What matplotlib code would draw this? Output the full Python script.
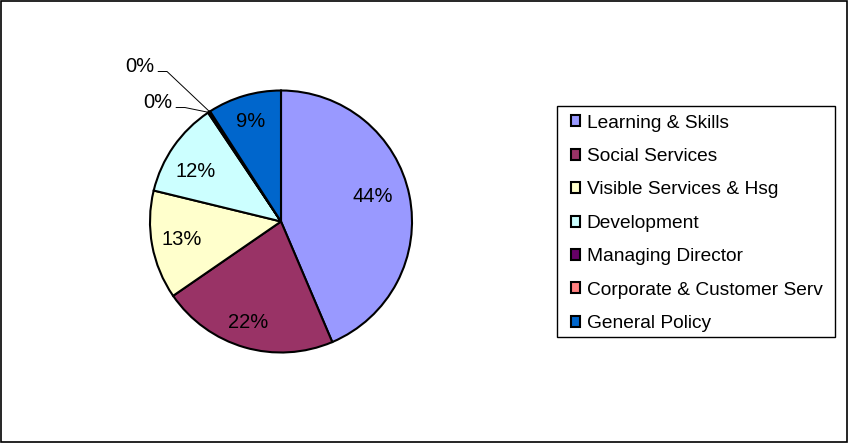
import matplotlib
matplotlib.use("Agg")
import matplotlib.pyplot as plt
from matplotlib.patches import Rectangle
import numpy as np

plt.rcParams['font.family'] = ['Liberation Sans', 'DejaVu Sans']

categories = ["Learning & Skills", "Social Services", "Visible Services & Hsg",
              "Development", "Managing Director", "Corporate & Customer Serv",
              "General Policy"]
values = [43.6, 21.8, 13.4, 11.8, 0.15, 0.15, 9.1]
colors = ["#9999FF", "#993366", "#FFFFCC", "#CCFFFF", "#660066", "#FF8080", "#0066CC"]

W, H = 848, 443
fig = plt.figure(figsize=(W / 100, H / 100), dpi=100)
fig.patches.append(Rectangle((0.0012, 0.0023), 0.9976, 0.9954, transform=fig.transFigure,
                             fill=False, edgecolor="black", linewidth=1.2))

cx, cy, r = 281, 221.5, 131
ax = fig.add_axes([(cx - r) / W, (H - cy - r) / H, 2 * r / W, 2 * r / H])

wedges, _ = ax.pie(values, colors=colors, startangle=90, counterclock=False,
                   wedgeprops=dict(edgecolor="black", linewidth=1.5))
ax.set_xlim(-1, 1)
ax.set_ylim(-1, 1)
ax.set_aspect('equal')
ax.axis('off')

total = sum(values)
# (radial distance, angular nudge in degrees) for inside labels
inside_style = [(0.727, 3.4), (0.815, -2.0), (0.77, 0.0), (0.758, 4.7), None, None, (0.80, 0.7)]
for w, v, st in zip(wedges, values, inside_style):
    if st is None:
        continue
    d, shift = st
    pct = "{:.0f}%".format(v / total * 100)
    mid = np.deg2rad((w.theta1 + w.theta2) / 2 + shift)
    ax.text(d * np.cos(mid), d * np.sin(mid), pct, ha='center', va='center',
            fontsize=14.5, color='black')

# small slices: labels outside with leader lines
small = [i for i, v in enumerate(values) if v / total < 0.005]
leader_style = [(-0.80, 0.87), (-0.937, 1.145)]
for i, (lx, ly) in zip(small, leader_style):
    w = wedges[i]
    mid = np.deg2rad((w.theta1 + w.theta2) / 2)
    ex, ey = np.cos(mid), np.sin(mid)
    pct = "{:.0f}%".format(values[i] / total * 100)
    ax.plot([lx, lx + 0.067, ex], [ly, ly, ey], color='black', linewidth=0.7,
            clip_on=False, solid_joinstyle='miter')
    ax.text(lx - 0.03, ly + 0.036, pct, ha='right', va='center', fontsize=14.5, clip_on=False)

# legend box
bx0, by0, bx1, by1 = 557, 106, 835, 337
fig.patches.append(Rectangle((bx0 / W, 1 - by1 / H), (bx1 - bx0) / W, (by1 - by0) / H,
                             transform=fig.transFigure, fill=False, edgecolor='black',
                             linewidth=1.0))
leg = fig.legend(wedges, categories, loc='upper left',
                 bbox_to_anchor=(562 / W, 1 - 106 / H), fontsize=13.75,
                 frameon=False,
                 handlelength=0.5, handleheight=0.5, handletextpad=0.35,
                 labelspacing=0.86, borderpad=0.45, borderaxespad=0)

fig.savefig("out.png", dpi=100)
